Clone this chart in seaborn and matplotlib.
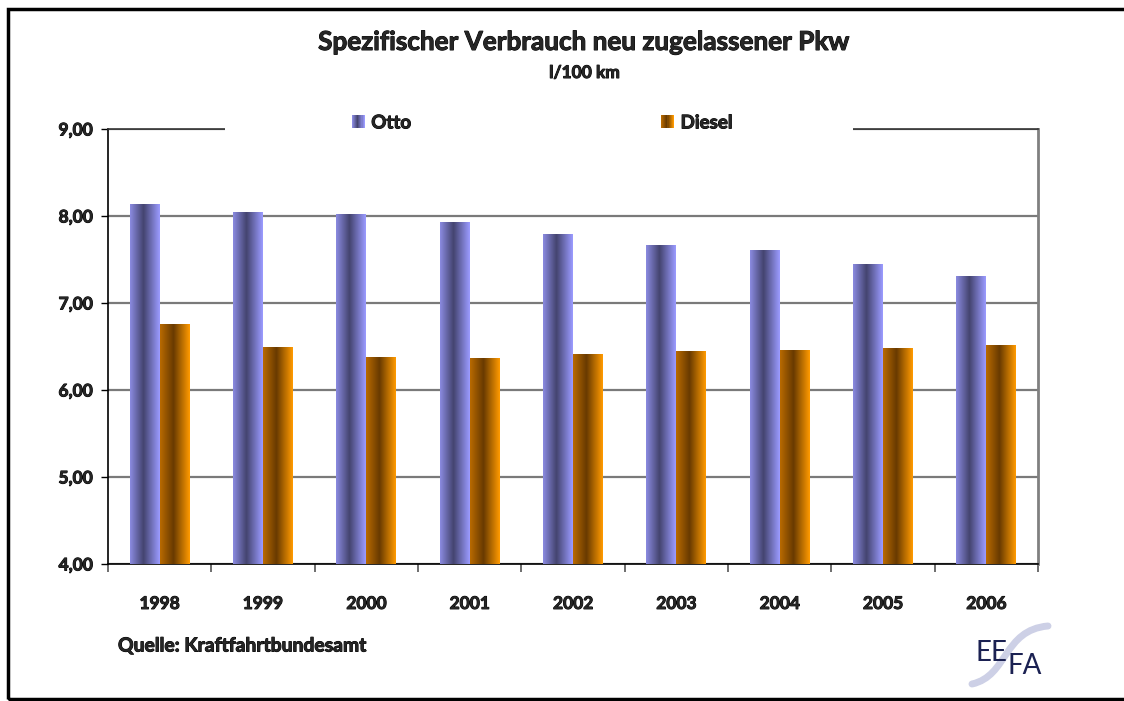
import numpy as np
import pandas as pd
import seaborn as sns
import matplotlib.pyplot as plt
import matplotlib.patheffects as pe
from matplotlib.patches import Rectangle, Patch, PathPatch
from matplotlib.path import Path
from matplotlib.legend_handler import HandlerBase
from matplotlib.colors import to_rgb

# Data
years = ['1998', '1999', '2000', '2001', '2002', '2003', '2004', '2005', '2006']
otto = [8.14, 8.05, 8.02, 7.93, 7.79, 7.67, 7.61, 7.45, 7.31]
diesel = [6.76, 6.49, 6.38, 6.37, 6.41, 6.45, 6.46, 6.48, 6.52]
series = ['Otto', 'Diesel']
y_ticks = [4, 5, 6, 7, 8, 9]

# Gradient stops: (position, colour) across each bar
otto_stops = [(0.0, '#8a8ae0'), (0.45, '#44446f'), (1.0, '#9b9bff')]
diesel_stops = [(0.0, '#b86a00'), (0.45, '#683a00'), (1.0, '#ff9a00')]

# thicken the bold text a bit (the original font is a heavy Gill Sans)
heavy = [pe.withStroke(linewidth=0.7, foreground='black')]


def gradient_colors(stops, n):
    pos = [s[0] for s in stops]
    rgb = np.array([to_rgb(s[1]) for s in stops])
    t = np.linspace(0, 1, n)
    return np.stack([np.interp(t, pos, rgb[:, k]) for k in range(3)], axis=1)


class GradientHandler(HandlerBase):
    def __init__(self, stops):
        super().__init__()
        self.stops = stops

    def create_artists(self, legend, orig_handle, xdescent, ydescent,
                       width, height, fontsize, trans):
        n = 12
        cols = gradient_colors(self.stops, n)
        arts = []
        for i, c in enumerate(cols):
            arts.append(Rectangle((-xdescent + i * width / n, -ydescent),
                                  width / n * 1.05, height, facecolor=c,
                                  edgecolor='none', transform=trans))
        return arts


df = pd.DataFrame({
    'Jahr': years * 2,
    'Wert': otto + diesel,
    'Typ': [series[0]] * len(years) + [series[1]] * len(years),
})

sns.set_theme(style='white')
plt.rcParams['font.family'] = ['Lato', 'DejaVu Sans']

fig = plt.figure(figsize=(11.24, 7.01), dpi=100)
ax = fig.add_axes([108 / 1124, 1 - 564 / 701, 930 / 1124, 435 / 701])

base_cols = {'Otto': '#9999ff', 'Diesel': '#ff9900'}
sns.barplot(data=df, x='Jahr', y='Wert', hue='Typ', palette=base_cols,
            saturation=1, width=0.58, errorbar=None, legend=False, ax=ax,
            zorder=3)

# replace solid fills with horizontal gradients
otto_rgb = np.array(to_rgb(base_cols['Otto']))
for p in list(ax.patches):
    fc = np.array(p.get_facecolor()[:3])
    stops = otto_stops if np.allclose(fc, otto_rgb, atol=0.05) else diesel_stops
    img = gradient_colors(stops, 64)[np.newaxis, :, :]
    x0 = p.get_x()
    w = p.get_width()
    top = p.get_y() + p.get_height()
    im = ax.imshow(img, extent=[x0, x0 + w, 4, top], aspect='auto',
                   interpolation='bilinear', zorder=3)
    im.set_clip_path(p)
    p.set_facecolor('none')
    p.set_edgecolor('none')

ax.set_xlim(-0.5, len(years) - 0.5)
ax.set_ylim(4, 9)

ax.set_yticks(y_ticks)
ax.set_yticklabels([f'{v:.2f}'.replace('.', ',') for v in y_ticks],
                   fontsize=12.5, fontweight='bold')
ax.yaxis.grid(True, color='#7a7a7a', linewidth=1.6, zorder=1)
ax.set_axisbelow(True)
ax.tick_params(axis='y', left=True, length=5, width=1, color='black', pad=6)

ax.set_xticks(range(len(years)))
ax.set_xticklabels(years, fontsize=12.5, fontweight='bold')
ax.set_xticks(np.arange(-0.5, len(years), 1), minor=True)
ax.tick_params(axis='x', which='major', length=0, pad=23)
ax.tick_params(axis='x', which='minor', bottom=True, length=6, width=1.2,
               color='#555555')
ax.set_xlabel('')
ax.set_ylabel('')
for lbl in ax.get_xticklabels() + ax.get_yticklabels():
    lbl.set_path_effects(heavy)

for side in ['left', 'bottom']:
    ax.spines[side].set_color('black')
    ax.spines[side].set_linewidth(1.2)
ax.spines['right'].set_color('#808080')
ax.spines['right'].set_linewidth(2)
ax.spines['top'].set_color('#333333')
ax.spines['top'].set_linewidth(1.2)

# white strip behind the legend breaking the top border
ax.add_patch(Rectangle(((225 - 108) / 930, 0.985), 628 / 930, 0.06,
                       transform=ax.transAxes, facecolor='white',
                       edgecolor='none', clip_on=False, zorder=5))

h_otto = Patch(label='Otto')
h_diesel = Patch(label='Diesel')
leg = ax.legend(handles=[h_otto, h_diesel], ncol=2, frameon=False,
                loc='center', bbox_to_anchor=((542 - 108) / 930, 1.014),
                prop={'weight': 'bold', 'size': 13.5},
                handlelength=0.7, handleheight=0.7, handletextpad=0.35,
                columnspacing=13.3,
                handler_map={h_otto: GradientHandler(otto_stops),
                             h_diesel: GradientHandler(diesel_stops)})
leg.set_zorder(6)
for t in leg.get_texts():
    t.set_path_effects(heavy)

fig.text(0.52, 1 - 42 / 701, 'Spezifischer Verbrauch neu zugelassener Pkw',
         ha='center', va='center', fontsize=18.8, fontweight='bold',
         path_effects=heavy)
fig.text(0.52, 1 - 73 / 701, 'l/100 km', ha='center', va='center',
         fontsize=12.5, fontweight='bold', path_effects=heavy)
fig.text(118 / 1124, 1 - 646 / 701, 'Quelle: Kraftfahrtbundesamt',
         ha='left', va='center', fontsize=13.9, fontweight='bold',
         path_effects=heavy)

# EEFA logo
W, H = 1124, 701
def fp(x, y):
    return (x / W, 1 - y / H)

verts = [fp(972, 684), fp(1008, 676), fp(1003, 630), fp(1048, 626)]
curve = PathPatch(Path(verts, [Path.MOVETO, Path.CURVE4, Path.CURVE4, Path.CURVE4]),
                  transform=fig.transFigure, facecolor='none',
                  edgecolor='#cdd0e6', linewidth=5, capstyle='round')
fig.patches.append(curve)
fig.text(*fp(976, 653), 'EE', ha='left', va='center', fontsize=20,
         color='#1b2152', family=['Lato', 'DejaVu Sans'])
fig.text(*fp(1008, 666), 'FA', ha='left', va='center', fontsize=20,
         color='#1b2152', family=['Lato', 'DejaVu Sans'])

# outer frame
fig.patches.append(Rectangle(fp(8, 699), 1.05, (699 - 9) / H,
                             transform=fig.transFigure, fill=False,
                             edgecolor='black', linewidth=2.5))

fig.savefig('out.png', dpi=100)
